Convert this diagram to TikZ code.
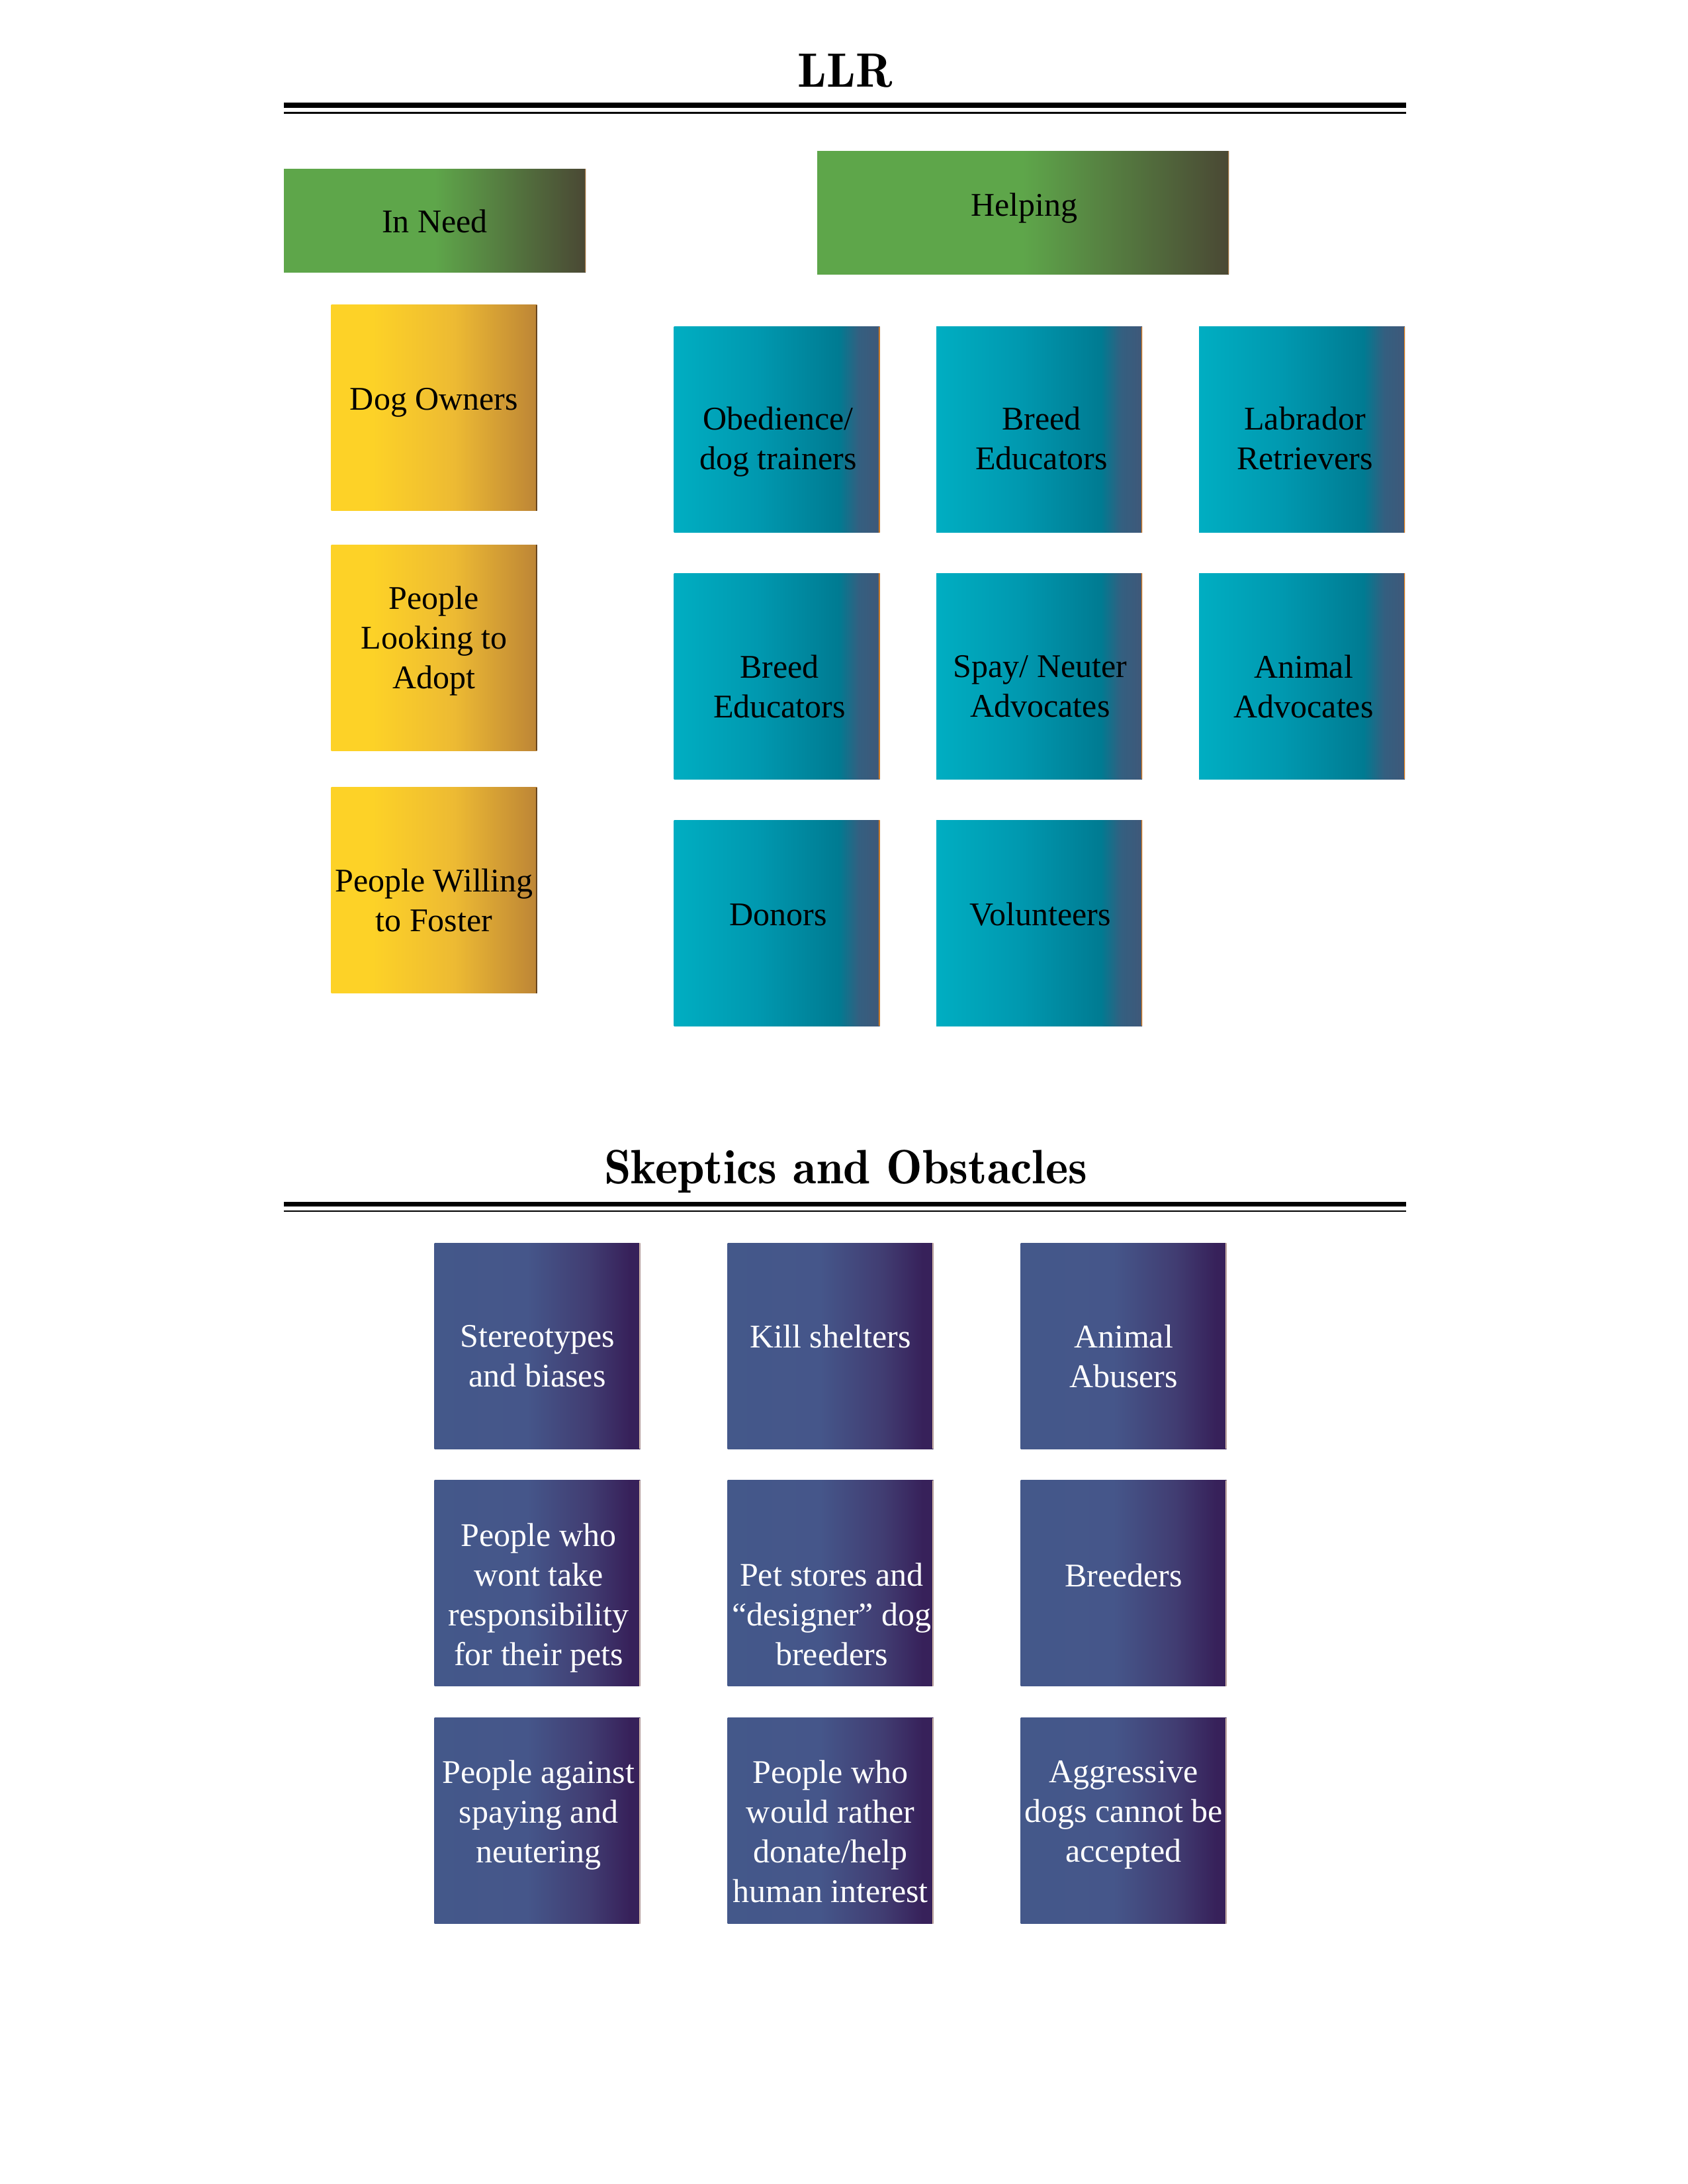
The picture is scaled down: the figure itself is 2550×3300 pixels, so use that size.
\documentclass[tikz,border=0pt]{standalone}
\usepackage{fontspec}
\setmainfont{Liberation Serif}
\newcommand\titlefnt{\fontfamily{lmr}\fontseries{b}\fontsize{17.5}{21}\selectfont}
\definecolor{grA}{HTML}{5EA64A}
\definecolor{grC}{HTML}{4A4834}
\definecolor{yeA}{HTML}{FDD227}
\definecolor{yeB}{HTML}{EDBA33}
\definecolor{yeC}{HTML}{BD8536}
\definecolor{teA}{HTML}{00AEC2}
\definecolor{teB}{HTML}{0099B0}
\definecolor{teC}{HTML}{007B92}
\definecolor{teD}{HTML}{345F80}
\definecolor{teE}{HTML}{3F5879}
\definecolor{naA}{HTML}{435A8A}
\definecolor{naB}{HTML}{45568A}
\definecolor{naC}{HTML}{413D72}
\definecolor{naD}{HTML}{37215A}
\definecolor{edgeG}{HTML}{A0703A}
\pgfdeclarehorizontalshading{greensh}{100bp}{color(0bp)=(grA); color(50bp)=(grA); color(75bp)=(grC); color(100bp)=(grC)}
\pgfdeclarehorizontalshading{yellowsh}{100bp}{color(0bp)=(yeA); color(35bp)=(yeA); color(55bp)=(yeB); color(75bp)=(yeC); color(100bp)=(yeC)}
\pgfdeclarehorizontalshading{tealsh}{100bp}{color(0bp)=(teA); color(25bp)=(teA); color(45bp)=(teB); color(65bp)=(teC); color(70bp)=(teD); color(75bp)=(teE); color(100bp)=(teE)}
\pgfdeclarehorizontalshading{navysh}{100bp}{color(0bp)=(naA); color(47.5bp)=(naB); color(62.5bp)=(naC); color(72.5bp)=(naD); color(100bp)=(naD)}
\tikzset{
  boxbase/.style={shade, draw=none, inner sep=0pt, minimum width=74.64pt, minimum height=74.64pt},
  redge/.style={path picture={\draw[line width=0.7pt, #1] (path picture bounding box.north east) -- (path picture bounding box.south east);}},
  greenbox/.style={boxbase, shading=greensh, redge=edgeG},
  yellowbox/.style={boxbase, shading=yellowsh, redge=black!55!brown},
  tealbox/.style={boxbase, shading=tealsh, redge=orange!70!brown},
  navybox/.style={boxbase, shading=navysh, redge=brown!40!white},
  txt/.style={align=center, inner sep=0pt, font=\fontsize{12}{14.4}\selectfont, execute at begin node=\strut, execute at end node=\strut},
  wtxt/.style={txt, text=white},
  titletxt/.style={anchor=base, inner sep=0pt, font=\titlefnt},
  thickrule/.style={line width=1.8pt},
  thinrule/.style={line width=0.7pt}
}
\begin{document}
\begin{tikzpicture}[x=0.24pt, y=-0.24pt]
\fill[white] (0,0) rectangle (2550,3300);
\useasboundingbox (0,0) rectangle (2550,3300);

% ---- LLR title and rules
\node[titletxt] (llr) at (1277,131) {LLR};
\coordinate (r1l) at (429,159);   \coordinate (r1r) at (2125,159);
\coordinate (r2l) at (429,170.5); \coordinate (r2r) at (2125,170.5);
\draw[thickrule] (r1l) -- (r1r);
\draw[thinrule] (r2l) -- (r2r);

% ---- headers
\node[greenbox, minimum width=109.44pt, minimum height=37.44pt] (inneed) at (657,333) {};
\node[txt] (inneedt) at (657,339) {In Need};
\node[greenbox, minimum width=149.28pt, minimum height=44.64pt] (helping) at (1546,321) {};
\node[txt] (helpingt) at (1548,314) {Helping};

% ---- In need column
\node[yellowbox] (dog) at (656,616) {};
\node[txt] (dogt) at (656,607) {Dog Owners};
\node[yellowbox] (adopt) at (656,978.5) {};
\node[txt] (adoptt) at (656,972) {People\\Looking to\\Adopt};
\node[yellowbox] (foster) at (656,1345) {};
\node[txt] (fostert) at (656,1369) {People Willing\\to Foster};

% ---- Helping grid
\node[tealbox] (obed) at (1174,649) {};
\node[txt] (obedt) at (1176,671) {Obedience/\\dog trainers};
\node[tealbox] (breed1) at (1570.5,649) {};
\node[txt] (breed1t) at (1574,671) {Breed\\Educators};
\node[tealbox] (lab) at (1967.5,649) {};
\node[txt] (labt) at (1972,671) {Labrador\\Retrievers};

\node[tealbox] (breed2) at (1174,1021.5) {};
\node[txt] (breed2t) at (1178,1046) {Breed\\Educators};
\node[tealbox] (spay) at (1570.5,1021.5) {};
\node[txt] (spayt) at (1572,1046) {Spay/ Neuter\\Advocates};
\node[tealbox] (anim) at (1967.5,1021.5) {};
\node[txt] (animt) at (1970,1046) {Animal\\Advocates};

\node[tealbox] (donors) at (1174,1394.5) {};
\node[txt] (donorst) at (1176,1386) {Donors};
\node[tealbox] (vol) at (1570.5,1394.5) {};
\node[txt] (volt) at (1572,1386) {Volunteers};

% ---- Skeptics title and rules
\node[titletxt] (skep) at (1278,1788) {Skeptics and Obstacles};
\coordinate (r3l) at (429,1819.5); \coordinate (r3r) at (2125,1819.5);
\coordinate (r4l) at (429,1830);   \coordinate (r4r) at (2125,1830);
\draw[thickrule] (r3l) -- (r3r);
\draw[thinrule] (r4l) -- (r4r);

% ---- Skeptics grid
\node[navybox] (stereo) at (812,2033.5) {};
\node[wtxt] (stereot) at (812,2058) {Stereotypes\\and biases};
\node[navybox] (kill) at (1255,2033.5) {};
\node[wtxt] (killt) at (1255,2024) {Kill shelters};
\node[navybox] (abuse) at (1698,2033.5) {};
\node[wtxt] (abuset) at (1698,2058) {Animal\\Abusers};

\node[navybox] (resp) at (812,2392) {};
\node[wtxt] (respt) at (814,2418) {People who\\wont take\\responsibility\\for their pets};
\node[navybox] (pet) at (1255,2392) {};
\node[wtxt] (pett) at (1257,2448) {Pet stores and\\``designer'' dog\\breeders};
\node[navybox] (breeders) at (1698,2392) {};
\node[wtxt] (breederst) at (1698,2385) {Breeders};

\node[navybox] (against) at (812,2751) {};
\node[wtxt] (againstt) at (814,2746) {People against\\spaying and\\neutering};
\node[navybox] (human) at (1255,2751) {};
\node[wtxt] (humant) at (1255,2776) {People who\\would rather\\donate/help\\human interest};
\node[navybox] (aggr) at (1698,2751) {};
\node[wtxt] (aggrt) at (1698,2746) {Aggressive\\dogs cannot be\\accepted};
\end{tikzpicture}
\end{document}
